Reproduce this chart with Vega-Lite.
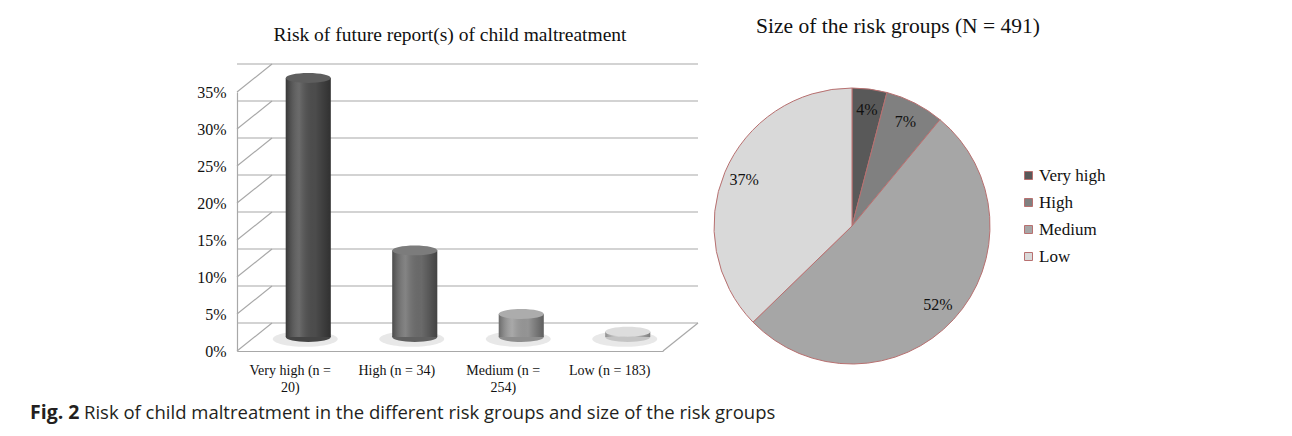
{
  "$schema": "https://vega.github.io/schema/vega-lite/v6.json",
  "background": "white",
  "padding": {"left": 25, "top": 15, "right": 5, "bottom": 5},
  "config": {"view": {"stroke": null}, "font": "Liberation Serif", "axisY": {"tickCount": 8, "labelOverlap": false}},
  "datasets": {
    "groups": [
      {"cat": "Very high (n = 20)", "group": "Very high", "risk": 0.35, "n": 20, "pct": "4%", "idx": 1},
      {"cat": "High (n = 34)", "group": "High", "risk": 0.117, "n": 34, "pct": "7%", "idx": 2},
      {"cat": "Medium (n = 254)", "group": "Medium", "risk": 0.031, "n": 254, "pct": "52%", "idx": 3},
      {"cat": "Low (n = 183)", "group": "Low", "risk": 0.007, "n": 183, "pct": "37%", "idx": 4}
    ],
    "ticks": [{"v": 0}, {"v": 0.05}, {"v": 0.1}, {"v": 0.15}, {"v": 0.2}, {"v": 0.25}, {"v": 0.3}, {"v": 0.35}],
    "caption": [{"bold": "Fig. 2", "text": "Risk of child maltreatment in the different risk groups and size of the risk groups"}]
  },
  "vconcat": [
    {
      "hconcat": [
        {
          "width": 426,
          "height": 259,
          "title": {"text": "Risk of future report(s)  of child maltreatment", "fontSize": 19.5, "fontWeight": "normal", "font": "Liberation Serif", "color": "#111", "offset": 18},
          "layer": [
            {
              "data": {"name": "ticks"},
              "mark": {"type": "rule", "color": "#a8a8a8", "strokeWidth": 1.2, "xOffset": 35, "x2Offset": 35, "yOffset": -28},
              "encoding": {"y": {"field": "v", "type": "quantitative"}}
            },
            {
              "data": {"name": "ticks"},
              "mark": {"type": "rule", "color": "#a8a8a8", "strokeWidth": 1.2, "x2Offset": 35, "y2Offset": -28},
              "encoding": {
                "x": {"datum": "Very high (n = 20)", "type": "nominal", "bandPosition": 0},
                "x2": {"datum": "Very high (n = 20)", "bandPosition": 0},
                "y": {"field": "v", "type": "quantitative"},
                "y2": {"field": "v"}
              }
            },
            {
              "data": {"name": "ticks"},
              "transform": [{"filter": "datum.v == 0"}],
              "mark": {"type": "rule", "color": "#a8a8a8", "strokeWidth": 1.2, "x2Offset": 35, "y2Offset": -28},
              "encoding": {
                "x": {"datum": "Low (n = 183)", "type": "nominal", "bandPosition": 1},
                "x2": {"datum": "Low (n = 183)", "bandPosition": 1},
                "y": {"field": "v", "type": "quantitative"},
                "y2": {"field": "v"}
              }
            },
            {
              "data": {"name": "groups"},
              "mark": {"type": "point", "shape": "M-1,0A1,0.24,0,1,0,1,0A1,0.24,0,1,0,-1,0Z", "size": 4225, "filled": true, "color": "#8a8a8a", "opacity": 0.2, "strokeWidth": 0, "xOffset": 15, "yOffset": -12},
              "encoding": {
                "x": {"field": "cat", "type": "nominal"},
                "y": {"datum": 0, "type": "quantitative"}
              }
            },
            {
              "data": {"name": "groups"},
              "mark": {"type": "point", "shape": "M-1,0A1,0.22,0,1,0,1,0A1,0.22,0,1,0,-1,0Z", "size": 2025, "filled": true, "opacity": 1, "strokeWidth": 0, "xOffset": 18, "yOffset": -14},
              "encoding": {
                "x": {"field": "cat", "type": "nominal"},
                "y": {"datum": 0, "type": "quantitative"},
                "color": {"field": "group", "type": "nominal", "scale": {"domain": ["Very high", "High", "Medium", "Low"], "range": ["#444444", "#606060", "#8e8e8e", "#c4c4c4"]}, "legend": null}
              }
            },
            {
              "data": {"name": "groups"},
              "mark": {"type": "bar", "size": 45, "xOffset": 18, "x2Offset": 18, "yOffset": -14, "y2Offset": -14},
              "encoding": {
                "x": {
                  "field": "cat", "type": "nominal", "sort": null,
                  "scale": {"domain": ["Very high (n = 20)", "High (n = 34)", "Medium (n = 254)", "Low (n = 183)"], "paddingInner": 0, "paddingOuter": 0},
                  "axis": {
                    "title": null, "labelAngle": 0, "labelLimit": 0, "labelAlign": "center",
                    "labelExpr": "length(datum.label) > 14 ? [slice(datum.label, 0, lastindexof(datum.label, ' ')), slice(datum.label, lastindexof(datum.label, ' ') + 1)] : datum.label",
                    "labelFont": "Liberation Serif", "labelFontSize": 14, "labelColor": "#111", "labelPadding": 19, "labelLineHeight": 17,
                    "ticks": false, "domainColor": "#a8a8a8", "domainWidth": 1.2
                  }
                },
                "y": {
                  "field": "risk", "type": "quantitative",
                  "scale": {"domain": [0, 0.35], "nice": false},
                  "axis": {
                    "title": " ", "titleX": -212, "titleY": 0, "titleAngle": 0, "titleAlign": "left",
                    "tickCount": 8, "format": ".0%",
                    "labelFont": "Liberation Serif", "labelFontSize": 16, "labelColor": "#111", "labelPadding": 11,
                    "ticks": false, "grid": false, "domainColor": "#a8a8a8", "domainWidth": 1.2
                  }
                },
                "color": {"field": "group", "type": "nominal", "scale": {"domain": ["Very high", "High", "Medium", "Low"], "range": ["#4e4e4e", "#6c6c6c", "#989898", "#cacaca"]}, "legend": null}
              }
            },
            {
              "data": {"name": "groups"},
              "mark": {
                "type": "bar", "size": 45, "xOffset": 18, "x2Offset": 18, "yOffset": -14, "y2Offset": -14,
                "fill": {"gradient": "linear", "x1": 0, "y1": 0, "x2": 1, "y2": 0, "stops": [
                  {"offset": 0, "color": "rgba(0,0,0,0.30)"},
                  {"offset": 0.3, "color": "rgba(255,255,255,0.16)"},
                  {"offset": 0.65, "color": "rgba(0,0,0,0.02)"},
                  {"offset": 1, "color": "rgba(0,0,0,0.38)"}
                ]}
              },
              "encoding": {
                "x": {"field": "cat", "type": "nominal"},
                "y": {"field": "risk", "type": "quantitative"}
              }
            },
            {
              "data": {"name": "groups"},
              "mark": {"type": "point", "shape": "M-1,0A1,0.22,0,1,0,1,0A1,0.22,0,1,0,-1,0Z", "size": 2025, "filled": true, "opacity": 1, "strokeWidth": 0, "xOffset": 18, "yOffset": -14},
              "encoding": {
                "x": {"field": "cat", "type": "nominal"},
                "y": {"field": "risk", "type": "quantitative"},
                "color": {"field": "group", "type": "nominal", "scale": {"domain": ["Very high", "High", "Medium", "Low"], "range": ["#5e5e5e", "#7c7c7c", "#acacac", "#dddddd"]}, "legend": null}
              }
            }
          ],
          "resolve": {"scale": {"color": "independent"}}
        },
        {
          "width": 276,
          "height": 268,
          "title": {"text": "Size of the risk groups  (N = 491)", "fontSize": 21.5, "fontWeight": "normal", "font": "Liberation Serif", "color": "#111", "dx": 46, "offset": 49},
          "data": {"name": "groups"},
          "encoding": {
            "theta": {"field": "n", "type": "quantitative", "stack": true},
            "order": {"field": "idx", "type": "quantitative"}
          },
          "layer": [
            {
              "mark": {"type": "arc", "outerRadius": 138, "stroke": "#b87070", "strokeWidth": 1},
              "encoding": {
                "color": {
                  "field": "group", "type": "nominal",
                  "scale": {"domain": ["Very high", "High", "Medium", "Low"], "range": ["#595959", "#808080", "#a6a6a6", "#d9d9d9"]},
                  "legend": {
                    "title": null, "orient": "none", "legendX": 306, "legendY": 75,
                    "symbolType": "square", "symbolSize": 64, "symbolStrokeColor": "#b87070", "symbolStrokeWidth": 1,
                    "labelFont": "Liberation Serif", "labelFontSize": 17, "labelColor": "#111", "rowPadding": 9, "labelOffset": 2
                  }
                }
              }
            },
            {
              "mark": {"type": "text", "radius": 117, "font": "Liberation Serif", "fontSize": 16, "color": "#111"},
              "encoding": {"text": {"field": "pct", "type": "nominal"}}
            }
          ]
        }
      ],
      "spacing": 13,
      "resolve": {"scale": {"color": "independent"}, "legend": {"color": "independent"}}
    },
    {
      "width": 760,
      "height": 16,
      "data": {"name": "caption"},
      "layer": [
        {
          "mark": {"type": "text", "align": "left", "baseline": "middle", "font": "Open Sans", "fontSize": 19.5, "fontWeight": "bold", "color": "#231f20", "dx": -207},
          "encoding": {
            "text": {"field": "bold", "type": "nominal"},
            "x": {"datum": 0, "type": "quantitative", "scale": {"domain": [0, 1]}, "axis": null}
          }
        },
        {
          "mark": {"type": "text", "align": "left", "baseline": "middle", "font": "Open Sans", "fontSize": 18.5, "color": "#231f20", "dx": -153},
          "encoding": {
            "text": {"field": "text", "type": "nominal"},
            "x": {"datum": 0, "type": "quantitative", "axis": null}
          }
        }
      ]
    }
  ],
  "spacing": 9
}
